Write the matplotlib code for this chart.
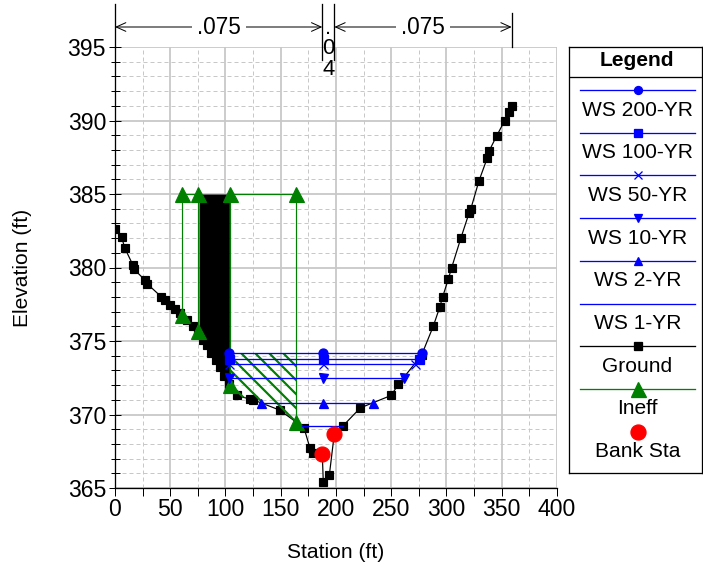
import numpy as np
import matplotlib
matplotlib.use("Agg")
import matplotlib.pyplot as plt
from matplotlib.transforms import blended_transform_factory

DPI = 84
W, H = 703, 570


def pt(p):
    """Convert a size in pixels to points at the figure dpi."""
    return p * 72.0 / DPI


plt.rcParams["font.family"] = ["Liberation Sans", "DejaVu Sans"]
plt.rcParams["hatch.linewidth"] = pt(2.2)
plt.rcParams["hatch.color"] = "#008000"

FS = pt(21)
FS_TICK = pt(23)
GREEN = "#008000"

# ---- cross-section geometry -------------------------------------------
ground_sta = [0, 6, 9, 16, 17, 27, 29, 42, 45, 50, 54, 59, 65, 71, 75, 80,
              83, 87, 91, 95, 99, 103, 110, 122, 125, 149, 171, 176.5, 179,
              187.6, 188.5, 194, 198.5, 206, 222, 250, 256.4, 277.5, 288,
              294, 296.5, 301.6, 304.7, 313, 320.4, 321.9, 329.4, 337, 338.7,
              345.4, 352.7, 356.3, 359]
ground_elev = [382.6, 382.05, 381.3, 380.2, 379.9, 379.15, 378.9, 378.0,
               377.8, 377.45, 377.2, 376.9, 376.4, 376.0, 375.7, 375.1, 374.7,
               374.2, 373.7, 373.2, 372.6, 372.1, 371.3, 371.05, 371.0, 370.3,
               369.1, 367.7, 367.4, 367.3, 365.4, 365.9, 368.7, 369.2, 370.45,
               371.3, 372.05, 374.05, 376.0, 377.33, 378.0, 379.2, 380.0,
               382.0, 383.7, 383.96, 385.9, 387.47, 387.95, 388.95, 390.0,
               390.6, 391.0]
bank_sta = [187.6, 198.5]

# ---- water surfaces ---------------------------------------------------
ws_names = ["WS 200-YR", "WS 100-YR", "WS 50-YR", "WS 10-YR", "WS 2-YR", "WS 1-YR"]
ws_elev = [374.15, 373.8, 373.45, 372.5, 370.8, 369.2]
ws_markers = ["o", "s", "x", "v", "^", None]
ws_marker_mid_sta = 188

# ---- ineffective flow areas and blocked obstruction --------------------
ineff_areas = [(60.3, 75.4), (104, 164)]
ineff_elev = 385
block_area = (76, 103.5)
block_elev = 385

# ---- Manning's n ------------------------------------------------------
n_breaks = [0, 187.6, 198.5, 359]
n_values = [0.075, 0.04, 0.075]

gs = np.array(ground_sta, dtype=float)
ge = np.array(ground_elev, dtype=float)


def ground_at(x):
    return np.interp(x, gs, ge)


def wetted_extent(w):
    """Left/right stations where the water surface meets the ground."""
    i0 = int(np.argmin(ge))
    i = i0
    while i > 0 and ge[i - 1] < w:
        i -= 1
    left = gs[i - 1] + (w - ge[i - 1]) * (gs[i] - gs[i - 1]) / (ge[i] - ge[i - 1])
    j = i0
    while j < len(ge) - 1 and ge[j + 1] < w:
        j += 1
    right = gs[j] + (w - ge[j]) * (gs[j + 1] - gs[j]) / (ge[j + 1] - ge[j])
    # water cannot enter the blocked obstruction
    if left < block_area[1] and block_area[1] < gs[i0]:
        left = max(left, block_area[1])
    return left, right


fig = plt.figure(figsize=(W / DPI, H / DPI), dpi=DPI)
ax = fig.add_axes([115 / W, (H - 488) / H, 442 / W, 441 / H])

# blocked obstruction
bx = np.concatenate([[block_area[0]],
                     gs[(gs > block_area[0]) & (gs < block_area[1])],
                     [block_area[1]]])
ax.fill_between(bx, ground_at(bx), block_elev, color="black", lw=0, zorder=4)

# ground
ax.plot(gs, ge, color="black", lw=pt(1.2), marker="s", ms=pt(8.5), zorder=5)

# ineffective flow areas (hatched where under water)
wmax = max(ws_elev)
for a, b in ineff_areas:
    xs = [a, a, b, b]
    ys = [ground_at(a), ineff_elev, ineff_elev, ground_at(b)]
    hx = np.concatenate([[a], gs[(gs > a) & (gs < b)], [b]])
    hy = ground_at(hx)
    if np.any(hy < wmax):
        ax.fill_between(hx, hy, wmax, facecolor="none", edgecolor=GREEN,
                        hatch="\\\\", lw=0, zorder=6)
    ax.plot(xs, ys, color=GREEN, lw=pt(1.2), zorder=6)
    ax.plot(xs, ys, ls="none", marker="^", ms=pt(15), color=GREEN, zorder=7)

# water surfaces
for name, w, m in zip(ws_names, ws_elev, ws_markers):
    l, r = wetted_extent(w)
    ax.plot([l, r], [w, w], color="blue", lw=pt(1.3), zorder=8)
    if m is not None:
        ax.plot([l, ws_marker_mid_sta, r], [w, w, w], ls="none", marker=m,
                ms=pt(9), color="blue", mew=pt(1.3), zorder=9)

# bank stations
ax.plot(bank_sta, ground_at(bank_sta), ls="none", marker="o", ms=pt(15),
        color="red", zorder=10)

# axes styling
ax.set_xlim(0, 400)
ax.set_ylim(365, 395)
ax.set_xticks(np.arange(0, 401, 50))
ax.set_xticks(np.arange(25, 400, 50), minor=True)
ax.set_yticks(np.arange(365, 396, 5))
ax.set_yticks(np.arange(365, 396, 1), minor=True)
ax.grid(which="major", color="#c8c8c8", lw=pt(1.8), ls="-", zorder=0)
ax.grid(which="minor", color="#c8c8c8", lw=pt(1), ls=(0, (4, 3)), zorder=0)
ax.set_axisbelow(True)
for s in ("top", "right"):
    ax.spines[s].set_visible(False)
for s in ("left", "bottom"):
    ax.spines[s].set_linewidth(pt(1.3))
    ax.spines[s].set_zorder(11)
ax.tick_params(axis="y", which="major", direction="inout", length=pt(12),
               width=pt(1), labelsize=FS_TICK, pad=pt(3))
ax.tick_params(axis="y", which="minor", direction="inout", length=pt(9),
               width=pt(1))
ax.tick_params(axis="x", which="both", direction="out", length=pt(8),
               width=pt(1), labelsize=FS_TICK, pad=pt(2))

ax.set_xlabel("Station (ft)", fontsize=FS)
ax.xaxis.set_label_coords(0.5, (488 - 552) / 441)
ax.xaxis.label.set_va("center")
ax.set_ylabel("Elevation (ft)", fontsize=FS)
ax.yaxis.set_label_coords((22 - 115) / 442, 0.5)
ax.yaxis.label.set_va("center")
ax.yaxis.label.set_ha("center")

# Manning's n ranges above the plot
trans = blended_transform_factory(ax.transData, ax.transAxes)


def fy(py):
    return (488 - py) / 441


v_top = [4, 4, 4, 13]
v_bot = [47, 60, 60, 47]
for b, t0, t1 in zip(n_breaks, v_top, v_bot):
    ax.plot([b, b], [fy(t0), fy(t1)], transform=trans, color="black",
            lw=pt(1.3), clip_on=False, zorder=12)

for (a, b), n in zip(zip(n_breaks[:-1], n_breaks[1:]), n_values):
    label = f"{n:.3f}".rstrip("0").lstrip("0")
    mid = 0.5 * (a + b)
    if b - a > 40:
        ax.annotate("", xy=(a, fy(27)), xytext=(b, fy(27)), xycoords=trans,
                    textcoords=trans, annotation_clip=False,
                    arrowprops=dict(arrowstyle="<->,head_length=0.4,head_width=0.18",
                                    color="black", lw=pt(1), shrinkA=0, shrinkB=0,
                                    mutation_scale=pt(24)))
        ax.text(mid, fy(27), label, transform=trans, ha="center", va="center",
                fontsize=pt(22.5), clip_on=False, zorder=13,
                bbox=dict(facecolor="white", edgecolor="none", pad=pt(5)))
    else:
        ax.text(mid, fy(49), "\n".join(label), transform=trans, ha="center",
                va="center", fontsize=pt(22), linespacing=0.95, clip_on=False,
                zorder=13)

# legend panel
lax = fig.add_axes([569 / W, (H - 473) / H, 133 / W, 426 / H])
lax.set_xlim(569, 702)
lax.set_ylim(473, 47)
lax.set_xticks([])
lax.set_yticks([])
for s in lax.spines.values():
    s.set_linewidth(pt(1.3))
lax.text(637, 61, "Legend", ha="center", va="center", fontsize=FS,
         fontweight="bold")
lax.plot([569, 702], [77, 77], color="black", lw=pt(1.3))

entries = [(nm, "blue", m, True, 8) for nm, m in zip(ws_names, ws_markers)]
entries += [("Ground", "black", "s", True, 8),
            ("Ineff", GREEN, "^", True, 15),
            ("Bank Sta", "red", "o", False, 15)]
for i, (nm, col, m, has_line, msz) in enumerate(entries):
    yl = 90 + 42.7 * i
    if has_line:
        lax.plot([580, 695], [yl, yl], color=col, lw=pt(1.3))
    if m is not None:
        lax.plot([637.5], [yl], ls="none", marker=m, ms=pt(msz), color=col,
                 mew=pt(1.3))
    lax.text(637.5, yl + 20, nm, ha="center", va="center", fontsize=FS)

fig.savefig("out.png", dpi=DPI)
